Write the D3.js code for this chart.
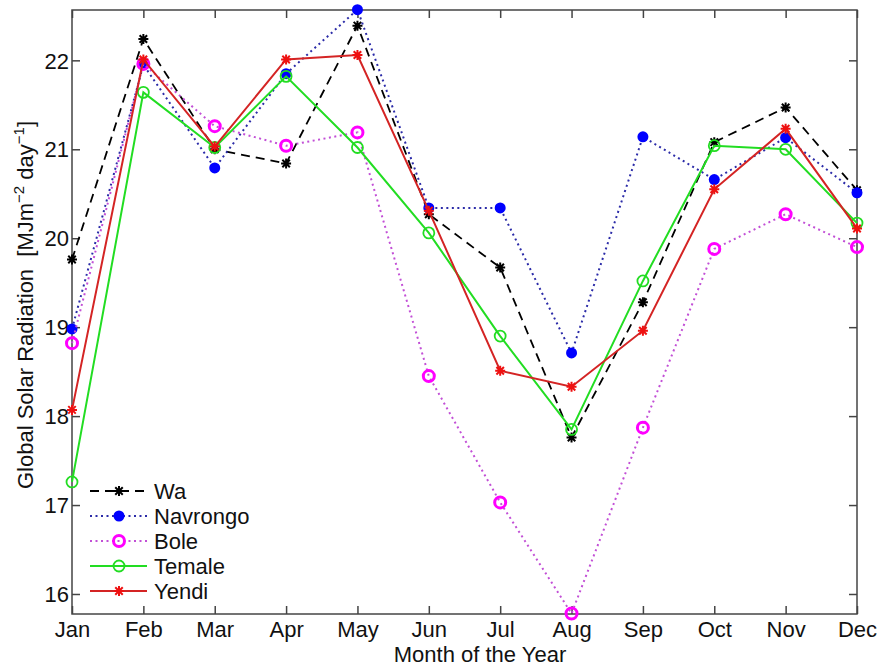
<!DOCTYPE html>
<html>
<head>
<meta charset="utf-8">
<script src="https://cdn.jsdelivr.net/npm/d3@7"></script>
<style>
  body { margin: 0; background: #fff; }
  svg { display: block; font-family: 'Liberation Sans', Arial, sans-serif; }
</style>
</head>
<body>
<svg width="880" height="667"></svg>
<script>
// month labels
let months = ['Jan', 'Feb', 'Mar', 'Apr', 'May', 'Jun', 'Jul', 'Aug', 'Sep', 'Oct', 'Nov', 'Dec'];
let yTicks = [16, 17, 18, 19, 20, 21, 22];

// monthly global solar radiation, MJ m^-2 day^-1
let wa       = [19.76, 22.24, 21.00, 20.84, 22.39, 20.27, 19.67, 17.76, 19.28, 21.08, 21.47, 20.54];
let navrongo = [18.98, 21.95, 20.79, 21.85, 22.57, 20.34, 20.34, 18.71, 21.14, 20.66, 21.13, 20.51];
let bole     = [18.82, 21.96, 21.26, 21.04, 21.19, 18.45, 17.03, 15.78, 17.87, 19.88, 20.27, 19.90];
let temale   = [17.26, 21.64, 21.02, 21.82, 21.02, 20.06, 18.90, 17.85, 19.52, 21.04, 21.00, 20.17];
let yendi    = [18.07, 22.01, 21.03, 22.01, 22.06, 20.31, 18.51, 18.33, 18.96, 20.55, 21.23, 20.11];

let series = [
  { name: 'Wa', values: wa, color: '#000', dash: '9,6', marker: 'star', mcolor: '#000', width: 1.8 },
  { name: 'Navrongo', values: navrongo, color: '#2b2ba8', dash: '2,3.5', marker: 'dot', mcolor: '#0000ff', width: 2 },
  { name: 'Bole', values: bole, color: '#c24fd6', dash: '2,3.5', marker: 'ring', mcolor: '#ff00ff', width: 2 },
  { name: 'Temale', values: temale, color: '#22dd22', dash: null, marker: 'circle', mcolor: '#22dd22', width: 2 },
  { name: 'Yendi', values: yendi, color: '#d42424', dash: null, marker: 'star', mcolor: '#ee1111', width: 2 }
];

let svg = d3.select('svg');
let plotL = 72, plotR = 857, plotT = 10, plotB = 614;
let axisColor = '#444';
let fs = 22;

let x = d3.scalePoint().domain(months).range([plotL, plotR]).padding(0);
let y = d3.scaleLinear().domain([15.775, 22.566]).range([plotB, plotT]);

// box
svg.append('rect')
  .attr('x', plotL).attr('y', plotT)
  .attr('width', plotR - plotL).attr('height', plotB - plotT)
  .attr('fill', 'none').attr('stroke', axisColor).attr('stroke-width', 1.5);

// ticks inside, on all four sides
let tl = 8;
let xAxisB = svg.append('g').attr('transform', `translate(0,${plotB})`)
  .call(d3.axisBottom(x).tickSizeInner(-tl).tickSizeOuter(0));
let xAxisT = svg.append('g').attr('transform', `translate(0,${plotT})`)
  .call(d3.axisTop(x).tickSizeInner(-tl).tickSizeOuter(0).tickFormat(''));
let yAxisL = svg.append('g').attr('transform', `translate(${plotL},0)`)
  .call(d3.axisLeft(y).tickValues(yTicks).tickFormat(d3.format('d')).tickSizeInner(-tl).tickSizeOuter(0));
let yAxisR = svg.append('g').attr('transform', `translate(${plotR},0)`)
  .call(d3.axisRight(y).tickValues(yTicks).tickSizeInner(-tl).tickSizeOuter(0).tickFormat(''));

for (let ax of [xAxisB, xAxisT, yAxisL, yAxisR]) {
  ax.select('.domain').remove();
  ax.selectAll('.tick line').attr('stroke', axisColor).attr('stroke-width', 1.5);
  ax.selectAll('.tick text')
    .attr('fill', '#111')
    .attr('font-size', fs)
    .attr('font-family', "'Liberation Sans', Arial, sans-serif");
}
xAxisB.selectAll('.tick text').attr('y', 7.5).attr('dy', '0.71em');
yAxisL.selectAll('.tick text').attr('x', -3).attr('dy', '0.35em');

// axis titles
svg.append('text')
  .attr('x', 480).attr('y', 662)
  .attr('text-anchor', 'middle')
  .attr('font-size', fs)
  .attr('fill', '#111')
  .text('Month of the Year');

let yl = svg.append('text')
  .attr('transform', 'translate(33,305) rotate(-90)')
  .attr('text-anchor', 'middle')
  .attr('font-size', fs)
  .attr('fill', '#111')
  .attr('xml:space', 'preserve');
yl.append('tspan').text('Global Solar Radiation  [MJm');
yl.append('tspan').attr('font-size', 15).attr('dy', -9).text('\u22122');
yl.append('tspan').attr('dy', 9).text(' day');
yl.append('tspan').attr('font-size', 15).attr('dy', -9).text('\u22121');
yl.append('tspan').attr('dy', 9).text(']');

// markers
function drawMarker(g, kind, cx, cy, color) {
  if (kind === 'star') {
    let r = 5;
    let d = `M${cx - r},${cy}L${cx + r},${cy}M${cx},${cy - r}L${cx},${cy + r}` +
      `M${cx - r * 0.75},${cy - r * 0.75}L${cx + r * 0.75},${cy + r * 0.75}` +
      `M${cx - r * 0.75},${cy + r * 0.75}L${cx + r * 0.75},${cy - r * 0.75}`;
    g.append('path').attr('d', d).attr('stroke', color).attr('stroke-width', 2).attr('fill', 'none');
  } else if (kind === 'dot') {
    g.append('circle').attr('cx', cx).attr('cy', cy).attr('r', 5.5).attr('fill', color);
  } else if (kind === 'ring') {
    g.append('circle').attr('cx', cx).attr('cy', cy).attr('r', 5.5)
      .attr('fill', 'none').attr('stroke', color).attr('stroke-width', 3);
  } else {
    g.append('circle').attr('cx', cx).attr('cy', cy).attr('r', 5.5)
      .attr('fill', 'none').attr('stroke', color).attr('stroke-width', 1.8);
  }
}

let line = d3.line()
  .x((d, i) => x(months[i]))
  .y(d => y(d));

let plot = svg.append('g');
for (let s of series) {
  let g = plot.append('g');
  g.append('path')
    .datum(s.values)
    .attr('d', line)
    .attr('fill', 'none')
    .attr('stroke', s.color)
    .attr('stroke-width', s.width)
    .attr('stroke-dasharray', s.dash);
  s.values.forEach((v, i) => drawMarker(g, s.marker, x(months[i]), y(v), s.mcolor));
}

// legend
let legend = svg.append('g');
series.forEach((s, i) => {
  let ly = 491 + i * 25;
  let g = legend.append('g');
  g.append('line')
    .attr('x1', 90).attr('x2', 147)
    .attr('y1', ly).attr('y2', ly)
    .attr('stroke', s.color)
    .attr('stroke-width', s.width)
    .attr('stroke-dasharray', s.dash);
  drawMarker(g, s.marker, 119, ly, s.mcolor);
  g.append('text')
    .attr('x', 154).attr('y', ly)
    .attr('dy', '0.35em')
    .attr('font-size', fs)
    .attr('fill', '#111')
    .text(s.name);
});
</script>
</body>
</html>
